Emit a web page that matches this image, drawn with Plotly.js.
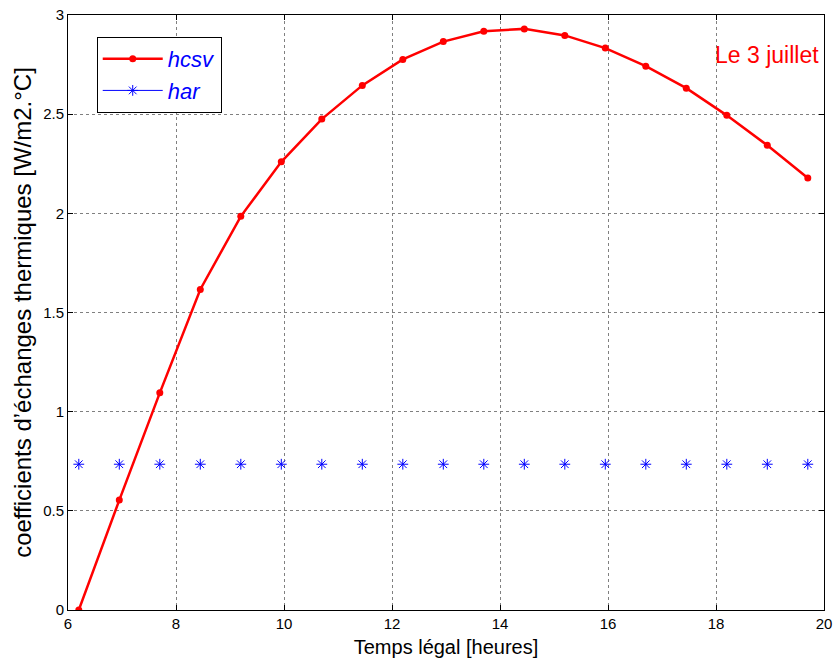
<!DOCTYPE html>
<html>
<head>
<meta charset="utf-8">
<script src="https://cdn.plot.ly/plotly-3.0.1.min.js"></script>
<style>html,body{margin:0;padding:0;background:#fff;}#chart{width:837px;height:664px;}</style>
</head>
<body>
<div id="chart"></div>
<script>
// Time (hours)
var timeHours = [6.2, 6.95, 7.7, 8.45, 9.2, 9.95, 10.7, 11.45, 12.2, 12.95, 13.7, 14.45, 15.2, 15.95, 16.7, 17.45, 18.2, 18.95, 19.7];
// hcsv values
var hcsvValues = [0, 0.554, 1.095, 1.616, 1.985, 2.26, 2.475, 2.645, 2.776, 2.866, 2.918, 2.93, 2.897, 2.833, 2.742, 2.631, 2.494, 2.343, 2.178];
// har values
var harValues = [0.735, 0.735, 0.735, 0.735, 0.735, 0.735, 0.735, 0.735, 0.735, 0.735, 0.735, 0.735, 0.735, 0.735, 0.735, 0.735, 0.735, 0.735, 0.735];
var xTicks = [6, 8, 10, 12, 14, 16, 18, 20];
var yTicks = [0, 0.5, 1, 1.5, 2, 2.5, 3];
var yTickLabels = ["0", "0.5", "1", "1.5", "2", "2.5", "3"];
var seriesNames = ["hcsv", "har"];
var noteText = "Le 3 juillet";

var traces = [
  {
    x: timeHours, y: hcsvValues, name: seriesNames[0], type: "scatter", mode: "lines+markers",
    line: {color: "#ff0000", width: 2.5},
    marker: {color: "#ff0000", size: 7, symbol: "circle"}
  },
  {
    x: timeHours, y: harValues, name: seriesNames[1], type: "scatter", mode: "markers",
    showlegend: false,
    marker: {color: "#0000ff", size: 9, symbol: "asterisk-open", line: {color: "#0000ff", width: 1}}
  },
  {
    x: [null], y: [null], name: seriesNames[1], type: "scatter", mode: "lines+markers",
    line: {color: "#0000ff", width: 1},
    marker: {color: "#0000ff", size: 9, symbol: "asterisk-open", line: {color: "#0000ff", width: 1}}
  }
];

var axisCommon = {
  showline: true, linecolor: "#000", linewidth: 1, mirror: "ticks",
  ticks: "inside", ticklen: 5, tickcolor: "#000", tickwidth: 1,
  showgrid: true, gridcolor: "#808080", griddash: "dot", gridwidth: 1,
  zeroline: false, tickfont: {family: "Arial, Liberation Sans, sans-serif", size: 15, color: "#000"}
};

var layout = {
  width: 837, height: 664,
  margin: {l: 68, r: 13, t: 15, b: 54},
  paper_bgcolor: "#fff", plot_bgcolor: "#fff",
  font: {family: "Arial, Liberation Sans, sans-serif", color: "#000"},
  xaxis: Object.assign({}, axisCommon, {
    range: [6, 20], tickvals: xTicks,
    title: {text: "Temps légal [heures]", font: {size: 20, color: "#000"}, standoff: 8}
  }),
  yaxis: Object.assign({}, axisCommon, {
    range: [0, 3], tickvals: yTicks, ticktext: yTickLabels,
    title: {text: "coefficients d’échanges thermiques [W/m2.°C]", font: {size: 24, color: "#000"}, standoff: 4}
  }),
  showlegend: true,
  legend: {
    x: 0.038, y: 0.963, xanchor: "left", yanchor: "top",
    bgcolor: "#fff", bordercolor: "#000", borderwidth: 1,
    font: {size: 22, color: "#0000ff", style: "italic"},
    itemwidth: 60, tracegroupgap: 0
  },
  annotations: [{
    x: 17.95, y: 2.8, xref: "x", yref: "y", xanchor: "left", yanchor: "middle",
    text: noteText, showarrow: false, font: {size: 23, color: "#ff0000"}
  }]
};

Plotly.newPlot("chart", traces, layout, {displayModeBar: false, staticPlot: true});
</script>
</body>
</html>
